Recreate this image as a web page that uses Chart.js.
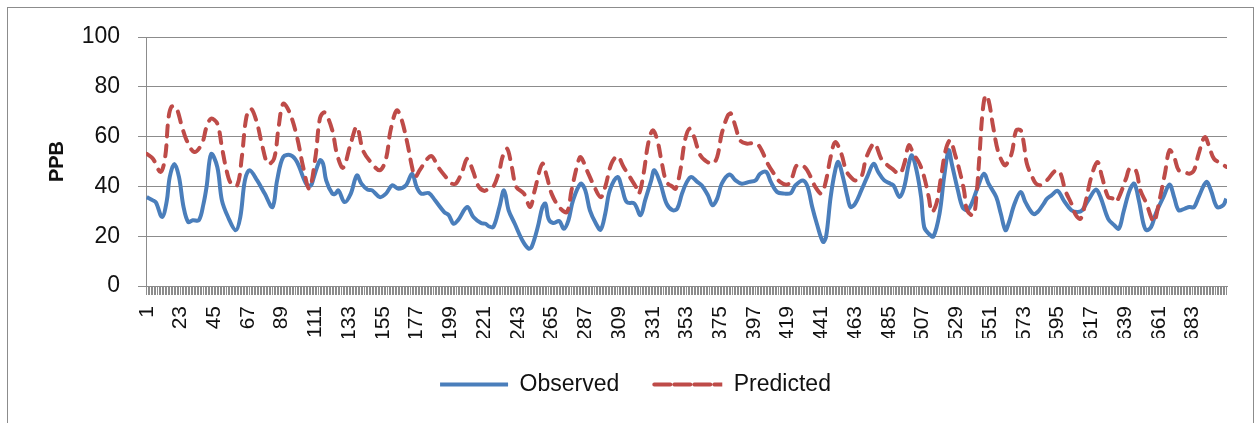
<!DOCTYPE html>
<html>
<head>
<meta charset="utf-8">
<script src="https://cdn.jsdelivr.net/npm/chart.js@4"></script>
<style>
  html, body { margin: 0; padding: 0; background: #fff; overflow: hidden; }
  #frame { position: absolute; left: 7px; top: 7px; width: 1245px; height: 430px; border: 1px solid #8c8c8c; }
  #statsChart { position: absolute; left: 0; top: 0; }
</style>
</head>
<body>
<div id="frame"></div>
<canvas id="statsChart" width="1255" height="423"></canvas>
<script>
// values (x = sample number, y = PPB)
const obsX = [1, 5, 7, 11, 14, 16, 19, 22, 25, 28, 31, 35, 38, 40, 43, 47, 50, 54, 59, 62, 65, 68, 73, 78, 83, 86, 90, 95, 99, 105, 108, 110, 114, 116, 118, 122, 124, 126, 130, 134, 138, 141, 145, 148, 153, 157, 161, 165, 170, 174, 177, 180, 185, 189, 195, 198, 201, 204, 210, 214, 219, 222, 224, 227, 231, 234, 237, 241, 246, 250, 252, 256, 259, 261, 263, 266, 270, 273, 276, 279, 284, 287, 290, 294, 297, 300, 303, 308, 311, 314, 319, 323, 326, 330, 332, 336, 340, 344, 347, 350, 353, 356, 360, 363, 367, 370, 373, 376, 381, 385, 389, 394, 398, 401, 405, 408, 412, 417, 421, 424, 429, 432, 435, 438, 442, 444, 447, 450, 452, 455, 458, 460, 463, 467, 471, 475, 478, 482, 486, 488, 492, 495, 498, 500, 503, 506, 508, 511, 514, 518, 521, 524, 526, 530, 533, 536, 539, 543, 547, 550, 555, 558, 561, 563, 567, 571, 574, 579, 582, 586, 588, 591, 595, 599, 604, 608, 611, 615, 620, 623, 628, 632, 635, 638, 642, 645, 648, 651, 653, 656, 659, 664, 668, 671, 674, 678, 681, 684, 687, 692, 695, 699, 703, 705]
const obsY = [35.7, 34.4, 33.5, 27.7, 34, 43.8, 49, 43.8, 31.7, 25.7, 26.4, 26.4, 33, 39.8, 53, 47.8, 34.4, 27.7, 22.4, 27.7, 42.4, 46.5, 42.4, 37, 31.7, 42.4, 51.8, 52.5, 49.8, 41, 40.4, 43.8, 50.5, 49.1, 42.4, 37.1, 37.1, 38.4, 33.7, 37, 44.4, 41.1, 38.7, 38.4, 35.7, 37.1, 40.4, 39.1, 40.4, 45.1, 39.8, 37.1, 37.3, 34.4, 29.7, 28.4, 25, 26.4, 31.7, 27.7, 25.3, 25, 24, 23.7, 31.7, 38.4, 30.4, 25, 18.3, 15, 15.7, 23.7, 31.7, 33.1, 27, 25.3, 26.1, 23, 26.4, 34.4, 41.1, 38.4, 30.4, 25, 22.6, 29, 38.4, 43.8, 39.1, 33.7, 33.1, 28.4, 34.4, 42.4, 46.5, 41.1, 33.1, 30.4, 31.1, 37, 41.5, 43.8, 41.8, 40.4, 36.4, 32.4, 35.1, 41.1, 44.8, 42.4, 41.1, 41.8, 42.4, 45.1, 45.8, 41.8, 37.8, 37.1, 37.3, 40.4, 42.4, 39.8, 31.7, 25, 17.7, 19.7, 35.7, 46.5, 49.8, 43.8, 35.7, 31.7, 33.1, 38.4, 44, 49.1, 45.8, 42.4, 41.1, 40.4, 35.7, 39.8, 49.1, 52.5, 46.5, 35.7, 23.7, 21, 19.9, 29, 43.8, 54.5, 49.1, 38.4, 31.7, 30.4, 33.1, 39.8, 45.1, 41.1, 35.7, 29, 22.4, 25, 33.1, 37.8, 33.7, 29, 29.7, 33.1, 35, 36.4, 38.2, 34.4, 30.4, 29.7, 30.4, 34.4, 38.7, 35.7, 27, 24.4, 23, 29.7, 38.4, 41.1, 34.4, 25, 22.4, 23.7, 29, 35.7, 40.8, 35.7, 30.4, 31.1, 31.7, 31.7, 35.7, 41.8, 38.4, 31.7, 32.4, 35.1]

const predX = [1, 5, 10, 13, 15, 17, 20, 24, 27, 32, 37, 40, 43, 47, 50, 53, 56, 60, 63, 66, 69, 73, 76, 80, 84, 87, 90, 94, 99, 103, 107, 111, 114, 117, 122, 125, 129, 134, 138, 142, 147, 153, 157, 160, 164, 167, 171, 174, 176, 179, 184, 187, 191, 196, 200, 203, 207, 210, 214, 217, 221, 224, 227, 231, 233, 236, 239, 242, 247, 251, 254, 259, 262, 265, 270, 275, 278, 282, 284, 288, 292, 297, 300, 304, 308, 312, 316, 320, 322, 325, 328, 331, 334, 337, 340, 344, 346, 349, 352, 355, 358, 360, 362, 365, 370, 373, 376, 380, 382, 385, 388, 392, 396, 399, 402, 406, 410, 414, 419, 422, 425, 430, 434, 437, 441, 444, 447, 450, 454, 457, 460, 463, 467, 470, 474, 476, 480, 483, 487, 492, 495, 498, 501, 505, 508, 511, 513, 516, 519, 522, 525, 528, 531, 534, 536, 540, 542, 544, 546, 548, 550, 553, 556, 559, 561, 565, 568, 571, 573, 575, 579, 581, 584, 588, 594, 597, 600, 604, 607, 610, 613, 617, 621, 624, 628, 631, 633, 636, 640, 642, 646, 649, 653, 656, 658, 661, 665, 668, 671, 674, 678, 681, 684, 687, 691, 694, 697, 702, 705]
const predY = [53.1, 51.1, 45.8, 51.8, 66.5, 71.9, 71.9, 63.9, 58.5, 53.8, 57.2, 63.9, 67.2, 65.2, 55.8, 46.5, 41.1, 40.4, 51.8, 67.9, 71.2, 65.2, 57.2, 49.1, 51.1, 63.9, 73.2, 69.9, 59.8, 47.8, 39.1, 51.8, 67.5, 69.7, 62.5, 53.1, 47.5, 57.2, 63.9, 54.5, 49.8, 46.5, 51.1, 62.5, 70.5, 67.2, 57.2, 47.8, 43.8, 46.5, 51.1, 52.1, 47.8, 43.8, 41.1, 41.4, 46.5, 51.1, 45.8, 40.4, 38.2, 39.1, 39.8, 46.5, 51.8, 55.2, 48, 39.8, 37.1, 31.7, 38.4, 49.1, 43.8, 37.1, 31.7, 29.7, 38.4, 49.1, 51.8, 46.5, 41.1, 35.7, 39.8, 49.1, 52.1, 47.8, 43.8, 39.8, 37.1, 45.1, 57.2, 62.5, 58.5, 49.1, 41.8, 39.8, 39.1, 46.5, 58.5, 63.2, 59.8, 55.8, 52.5, 50.5, 49.1, 51.8, 61.2, 68.5, 69.2, 63.9, 58.5, 57.2, 57.4, 57.2, 54.5, 49.1, 45.1, 41.8, 40.8, 43.8, 48.5, 47.8, 43.8, 39.8, 37.1, 42.4, 51.8, 57.8, 53.1, 46.5, 43.8, 42.4, 43.8, 51.1, 56.5, 57.2, 51.1, 49.1, 47.1, 45.1, 49.1, 56.5, 53.1, 49.1, 43.8, 35.7, 29.7, 33.1, 43.8, 54.5, 58.5, 53.1, 46.5, 38.4, 30.4, 28.4, 35.7, 51.8, 69.2, 76.6, 74.6, 63.9, 54.5, 49.8, 48.5, 53.1, 62.5, 62.5, 57.2, 49.1, 43.1, 41.1, 40.5, 42.4, 46.5, 45.1, 38.4, 33.1, 28.4, 27, 33.1, 43.8, 49.8, 43.8, 35.7, 35.1, 33.7, 37.1, 43.8, 47.1, 46.5, 38.4, 33.1, 27.7, 25.7, 33.1, 45.1, 54.5, 51.8, 46.5, 45.8, 45.1, 46.5, 53.1, 59.8, 55.8, 51.1, 49.1, 47.8]

const xTickLabels = ['1', '23', '45', '67', '89', '111', '133', '155', '177', '199', '221', '243', '265', '287', '309', '331', '353', '375', '397', '419', '441', '463', '485', '507', '529', '551', '573', '595', '617', '639', '661', '683']
const yTickValues = [0, 20, 40, 60, 80, 100]
const seriesNames = ['Observed', 'Predicted']
const sampleCount = 705

const FONT = '"Liberation Sans", Arial, sans-serif'
const AXIS_GREY = '#8c8c8c'

/**
 * @name toPoints
 * @description Zip x and y arrays into chart points.
 */
function toPoints(xs, ys) {
    return xs.map((x, i) => ({ x: x, y: ys[i] }))
}

/**
 * @name renderChart
 * @description Renders observed vs predicted PPB chart.
 */
function renderChart() {
    const ctx = document.getElementById('statsChart').getContext('2d')
    const myChart = new Chart(ctx, {
        type: 'line',
        data: {
            datasets: [
                {
                    label: seriesNames[0],
                    data: toPoints(obsX, obsY),
                    borderColor: '#4a7ebb',
                    backgroundColor: '#4a7ebb',
                    borderWidth: 4,
                    pointRadius: 0,
                    tension: 0.35,
                    order: 1,
                },
                {
                    label: seriesNames[1],
                    data: toPoints(predX, predY),
                    borderColor: '#be4b48',
                    backgroundColor: '#be4b48',
                    borderWidth: 4,
                    borderDash: [11, 9],
                    borderCapStyle: 'round',
                    pointRadius: 0,
                    tension: 0.35,
                    order: 0,
                },
            ],
        },
        options: {
            responsive: false,
            animation: false,
            events: [],
            layout: { padding: { left: 44, right: 28, top: 37, bottom: 17 } },
            plugins: {
                tooltip: { enabled: false },
                legend: {
                    position: 'bottom',
                    labels: {
                        boxWidth: 68,
                        boxHeight: 0,
                        padding: 35,
                        color: '#111',
                        font: { family: FONT, size: 23 },
                        sort: (a, b) => a.datasetIndex - b.datasetIndex,
                    },
                },
            },
            scales: {
                x: {
                    type: 'linear',
                    min: 0.5,
                    max: sampleCount + 0.5,
                    afterBuildTicks: (scale) => {
                        const ticks = []
                        for (let v = 1; v <= sampleCount; v++) ticks.push({ value: v })
                        scale.ticks = ticks
                    },
                    afterFit: (scale) => {
                        // fixed band height, no extra side padding for rotated labels
                        scale.height = 52
                        scale.paddingLeft = 0
                        scale.paddingRight = 0
                    },
                    grid: { drawOnChartArea: false, tickLength: 9, color: AXIS_GREY },
                    border: { color: AXIS_GREY },
                    ticks: {
                        autoSkip: false,
                        minRotation: 90,
                        maxRotation: 90,
                        padding: 11,
                        color: '#111',
                        font: { family: FONT, size: 21 },
                        callback: (v) => (xTickLabels.includes(String(v)) ? String(v) : ''),
                    },
                },
                y: {
                    min: 0,
                    max: 100,
                    afterBuildTicks: (scale) => {
                        scale.ticks = yTickValues.map((v) => ({ value: v }))
                    },
                    afterFit: (scale) => {
                        scale.width = 102
                    },
                    grid: { color: AXIS_GREY, tickLength: 8 },
                    border: { color: AXIS_GREY },
                    ticks: {
                        padding: 18,
                        color: '#111',
                        font: { family: FONT, size: 23 },
                    },
                    title: {
                        display: true,
                        text: 'PPB',
                        color: '#111',
                        font: { family: FONT, size: 20, weight: 'bold' },
                        padding: { top: 1, bottom: 0 },
                    },
                },
            },
        },
    })
}

renderChart()
</script>
</body>
</html>
